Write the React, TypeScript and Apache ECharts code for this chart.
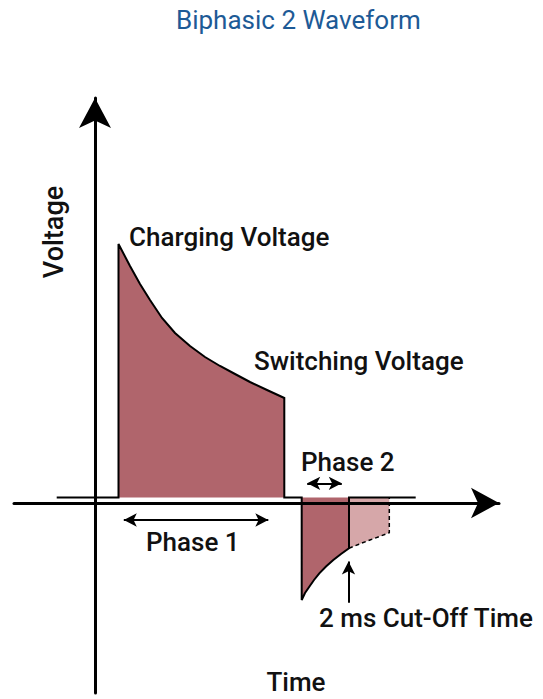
import React, { useEffect, useRef } from "react";
import * as echarts from "echarts";

// Axis extents (arbitrary schematic units)
const X_RANGE = [-8.1, 40.4];
const Y_RANGE = [-19, 40.5];

// Waveform baseline level and its horizontal extent
const BASELINE = 0.55;
const LEAD_START = -3.83;
const TAIL_END = 32.07;

// Phase 1 (positive pulse, decaying from charging to switching voltage)
const phase1Time = [2.35, 3.5, 4.5, 5.5, 6.7, 8.0, 9.5, 11.0, 12.5, 14.0, 15.5, 17.2, 18.93];
const phase1Volt = [25.9, 23.7, 21.9, 20.3, 18.5, 17.0, 15.7, 14.6, 13.7, 12.9, 12.1, 11.3, 10.5];

// Phase 2 (negative pulse up to the 2 ms cut-off)
const phase2Time = [20.67, 21.0, 21.43, 21.9, 22.43, 23.1, 23.83, 24.6, 25.4];
const phase2Volt = [-9.7, -9.0, -8.37, -7.7, -7.03, -6.35, -5.7, -5.1, -4.53];

// Portion of phase 2 that is cut off (dashed)
const cutoffTime = [25.4, 26.4, 27.5, 28.5, 29.43];
const cutoffVolt = [-4.53, -4.12, -3.7, -3.33, -2.97];

// Annotation arrows: [x1, y1, x2, y2]
const phase1Arrow = [2.88, -1.7, 17.33, -1.7];
const phase2Arrow = [21.22, 1.97, 24.68, 1.97];
const cutoffArrow = [25.35, -9.97, 25.35, -5.85];

// Texts
const TITLE = "Biphasic 2 Waveform";
const Y_NAME = "Voltage";
const X_NAME = "Time";
const LABEL_CHARGING = "Charging Voltage";
const LABEL_SWITCHING = "Switching Voltage";
const LABEL_PHASE1 = "Phase 1";
const LABEL_PHASE2 = "Phase 2";
const LABEL_CUTOFF = "2 ms Cut-Off Time";

const DARK = "#b0656c";
const LIGHT = "#d6a7a9";

const pair = (t: number[], v: number[]) => t.map((x, i) => [x, v[i]]);

export default function App() {
  const ref = useRef<HTMLDivElement | null>(null);

  useEffect(() => {
    if (!ref.current) return;
    const chart = echarts.init(ref.current, undefined, { renderer: "svg" });

    const p1 = pair(phase1Time, phase1Volt);
    const p2 = pair(phase2Time, phase2Volt);
    const pc = pair(cutoffTime, cutoffVolt);

    const outline = [
      [LEAD_START, BASELINE],
      [phase1Time[0], BASELINE],
      ...p1,
      [phase1Time[phase1Time.length - 1], BASELINE],
      [phase2Time[0], BASELINE],
      ...p2,
      [phase2Time[phase2Time.length - 1], BASELINE],
      [TAIL_END, BASELINE],
    ];

    const area1 = [[phase1Time[0], BASELINE], ...p1, [phase1Time[phase1Time.length - 1], BASELINE]];
    const area2 = [[phase2Time[0], BASELINE], ...p2, [phase2Time[phase2Time.length - 1], BASELINE]];
    const area3 = [[cutoffTime[0], BASELINE], ...pc, [cutoffTime[cutoffTime.length - 1], BASELINE]];
    const dashed = [...pc, [cutoffTime[cutoffTime.length - 1], BASELINE]];

    const font = "Roboto";
    const txt = (text: string, x: number, y: number, extra: any = {}, styleExtra: any = {}) => ({
      type: "text",
      x,
      y,
      silent: true,
      ...extra,
      style: {
        text,
        fontFamily: font,
        fontSize: 26,
        fontWeight: 500,
        lineHeight: 22,
        fill: "#111",
        align: "left",
        verticalAlign: "middle",
        ...styleExtra,
      },
    });

    const areaSeries = (data: number[][], color: string) => ({
      type: "line",
      data,
      symbol: "none",
      showSymbol: false,
      silent: true,
      z: 1,
      lineStyle: { width: 0, opacity: 0 },
      areaStyle: { color, opacity: 1, origin: BASELINE },
    });

    const arrowItem = (a: number[], startSym: string) => [
      { coord: [a[0], a[1]], symbol: startSym, symbolSize: [10, 13] },
      { coord: [a[2], a[3]], symbol: "arrow", symbolSize: [10, 13] },
    ];

    chart.setOption({
      animation: false,
      backgroundColor: "#fff",
      grid: { left: 14, right: 44, top: 98, bottom: 6, containLabel: false },
      xAxis: {
        type: "value",
        min: X_RANGE[0],
        max: X_RANGE[1],
        z: 10,
        axisLine: {
          show: true,
          onZero: true,
          symbol: ["none", "arrow"],
          symbolSize: [23, 28],
          lineStyle: { color: "#000", width: 3 },
        },
        axisTick: { show: false },
        axisLabel: { show: false },
        splitLine: { show: false },
      },
      yAxis: {
        type: "value",
        min: Y_RANGE[0],
        max: Y_RANGE[1],
        z: 10,
        axisLine: {
          show: true,
          onZero: true,
          symbol: ["none", "arrow"],
          symbolSize: [24, 30],
          lineStyle: { color: "#000", width: 3 },
        },
        axisTick: { show: false },
        axisLabel: { show: false },
        splitLine: { show: false },
      },
      series: [
        areaSeries(area1, DARK),
        areaSeries(area2, DARK),
        areaSeries(area3, LIGHT),
        {
          type: "line",
          data: dashed,
          symbol: "none",
          silent: true,
          z: 3,
          lineStyle: { color: "#000", width: 1.5, type: [4, 3] },
        },
        {
          type: "line",
          data: outline,
          symbol: "none",
          silent: true,
          z: 4,
          lineStyle: { color: "#000", width: 2, join: "miter" },
          markLine: {
            silent: true,
            animation: false,
            label: { show: false },
            emphasis: { disabled: true },
            lineStyle: { color: "#000", width: 2, type: "solid" },
            data: [
              arrowItem(phase1Arrow, "arrow"),
              arrowItem(phase2Arrow, "arrow"),
              arrowItem(cutoffArrow, "none"),
            ],
          },
        },
      ],
      graphic: [
        txt(TITLE, 176, 20, {}, { fill: "#1d5a96", fontWeight: "normal" }),
        txt(Y_NAME, 54, 232, { rotation: Math.PI / 2 }, { align: "center", fontSize: 27 }),
        txt(X_NAME, 296, 682, {}, { align: "center", fontSize: 26 }),
        txt(LABEL_CHARGING, 129, 237),
        txt(LABEL_SWITCHING, 254, 361),
        txt(LABEL_PHASE2, 301, 462),
        txt(LABEL_PHASE1, 146, 542),
        txt(LABEL_CUTOFF, 319, 618),
      ],
    });

    return () => chart.dispose();
  }, []);

  return (
    <div
      ref={ref}
      style={{ position: "fixed", left: 0, top: 0, width: 543, height: 699, background: "#fff" }}
    />
  );
}
